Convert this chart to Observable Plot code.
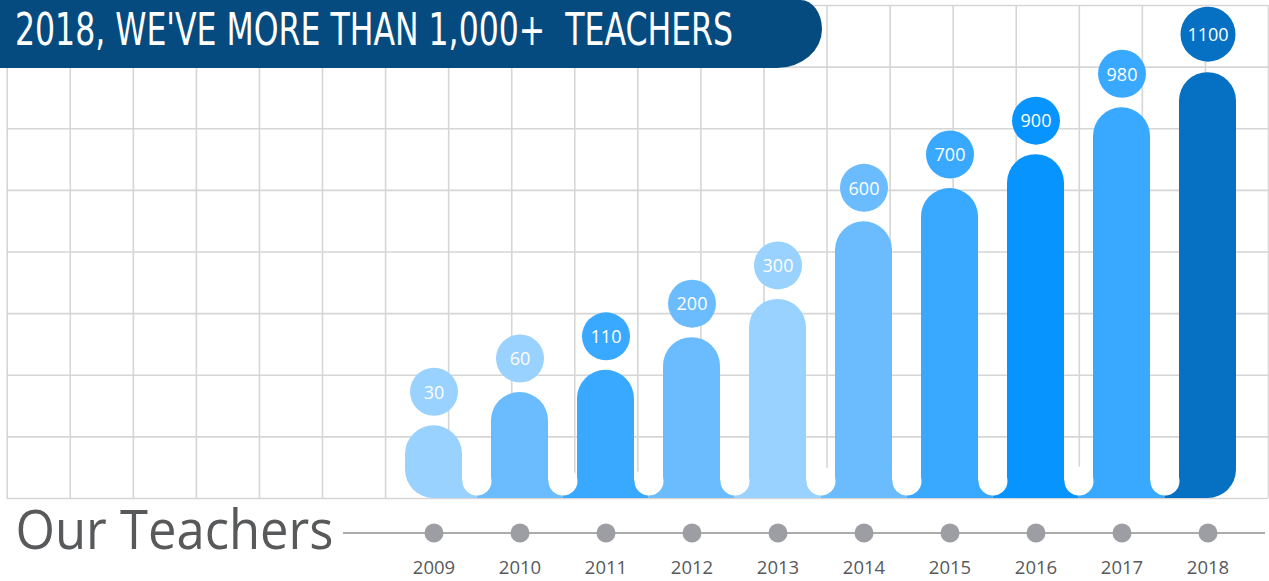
<!DOCTYPE html>
<html>
<head>
<meta charset="utf-8">
<script src="https://cdn.jsdelivr.net/npm/d3@7"></script>
<script src="https://cdn.jsdelivr.net/npm/@observablehq/plot@0.6"></script>
<style>
  html, body { margin: 0; padding: 0; background: #ffffff; }
  #wrap { position: relative; width: 1269px; height: 581px; overflow: hidden; background: #ffffff; }
  #wrap svg { position: absolute; left: 0; top: 0; }
  #banner {
    position: absolute; left: 0; top: 0; width: 822px; height: 68px; z-index: 5;
    background: #064b80;
    border-top-right-radius: 22px 30px;
    border-bottom-right-radius: 46px 40px;
  }
  #banner span {
    position: absolute; left: 15px; top: 7px;
    color: #ffffff; white-space: pre; line-height: 1;
    font-family: "Liberation Sans Narrow", "DejaVu Sans Condensed", "Liberation Sans", sans-serif;
    font-size: 45px; transform-origin: 0 0;
  }
</style>
</head>
<body>
<div id="wrap"><div id="banner"><span id="title"></span></div></div>
<script>
// ---- data ----
const years = [2009, 2010, 2011, 2012, 2013, 2014, 2015, 2016, 2017, 2018];
const teachers = [30, 60, 110, 200, 300, 600, 700, 900, 980, 1100];
// drawn bar heights, in background-grid rows (the picture's bars are stylised, not proportional)
const barHeights = [1.18, 1.72, 2.08, 2.61, 3.23, 4.49, 5.03, 5.58, 6.34, 6.91];
const barColors = ["#99d1ff", "#6abcff", "#39a9ff", "#6abcff", "#99d1ff", "#6abcff", "#39a9ff", "#0894ff", "#39a9ff", "#0670c2"];
const badgeColors = ["#99d1ff", "#99d1ff", "#39a9ff", "#6abcff", "#99d1ff", "#6abcff", "#39a9ff", "#0894ff", "#39a9ff", "#0670c2"];
const gridCols = d3.range(0, 21);
const gridRows = d3.range(0, 9);
const titleText = "2018, WE'VE MORE THAN 1,000+  TEACHERS";
const subtitleText = "Our Teachers";

const data = years.map((year, i) => ({
  year, teachers: teachers[i], h: barHeights[i], color: barColors[i], badge: badgeColors[i]
}));
const first = years[0], last = years[years.length - 1];
const isMid = d => d.year !== first && d.year !== last;
const isFirst = d => d.year === first;
const isLast = d => d.year === last;
const notLast = d => d.year !== last;

const W = 1269, H = 581, MT = 5, MB = 83;
const gridStroke = "#d6d6d6";

// background grid
const grid = Plot.plot({
  width: W, height: H, marginLeft: 6.7, marginRight: 1, marginTop: MT, marginBottom: MB,
  x: {domain: [0, 20], axis: null},
  y: {domain: [0, 8], axis: null},
  style: {background: "transparent"},
  marks: [
    Plot.gridX(gridCols, {stroke: gridStroke, strokeOpacity: 1, strokeWidth: 1.6}),
    Plot.gridY(gridRows, {stroke: gridStroke, strokeOpacity: 1, strokeWidth: 1.6})
  ]
});

const font = "'Open Sans', 'Noto Sans', sans-serif";
const chart = Plot.plot({
  width: W, height: H, marginLeft: 390.5, marginRight: 18.5, marginTop: MT, marginBottom: MB,
  style: {background: "transparent", overflow: "visible", fontFamily: font},
  x: {type: "band", domain: years, paddingInner: 0.337, paddingOuter: 0.1685, axis: null},
  y: {domain: [0, 8], axis: null},
  color: {type: "identity"},
  marks: [
    // rounded bars
    Plot.barY(data, {x: "year", y1: 0, y2: "h", fill: d => d.color, rx: 28.5}),
    // squared-off bottoms
    Plot.barY(data, {filter: isMid, x: "year", y1: 0, y2: 0.5, fill: d => d.color}),
    Plot.barY(data, {filter: isFirst, x: "year", y1: 0, y2: 0.5, fill: d => d.color, insetLeft: 28.5}),
    Plot.barY(data, {filter: isLast, x: "year", y1: 0, y2: 0.5, fill: d => d.color, insetRight: 28.5}),
    // flared feet joining the bars
    Plot.barY(data, {filter: isMid, x: "year", y1: 0, y2: 0.284, fill: d => d.color, insetLeft: -14.5, insetRight: -14.5}),
    Plot.barY(data, {filter: isFirst, x: "year", y1: 0, y2: 0.284, fill: d => d.color, insetLeft: 28.5, insetRight: -14.5}),
    Plot.barY(data, {filter: isLast, x: "year", y1: 0, y2: 0.284, fill: d => d.color, insetLeft: -14.5, insetRight: 28.5}),
    // white rounded notches between bars
    Plot.dot(data, {filter: notLast, x: "year", frameAnchor: "bottom", dx: 43, dy: -17.5, r: 14.5, fill: "#ffffff"}),
    // value badges
    Plot.dot(data, {filter: notLast, x: "year", y: "h", dy: -34, r: 24, fill: d => d.badge}),
    Plot.dot(data, {filter: isLast, x: "year", y: "h", dy: -38.5, r: 27.5, fill: d => d.badge}),
    Plot.text(data, {filter: notLast, x: "year", y: "h", dy: -33, text: d => String(d.teachers), fill: "#ffffff", fontSize: 18, fontFamily: font}),
    Plot.text(data, {filter: isLast, x: "year", y: "h", dy: -37.5, text: d => String(d.teachers), fill: "#ffffff", fontSize: 18, fontFamily: font}),
    // timeline axis
    Plot.ruleY([0], {dy: 34.5, stroke: "#ababab", strokeWidth: 2, insetLeft: -47.5, insetRight: -14.5}),
    Plot.dot(data, {x: "year", frameAnchor: "bottom", dy: 34.5, r: 9.5, fill: "#9d9ea3"}),
    Plot.text(data, {x: "year", frameAnchor: "bottom", dy: 75, text: d => String(d.year), fill: "#58595b", fontSize: 18.5, fontFamily: font}),
    Plot.text([subtitleText], {text: d => d, frameAnchor: "bottom-left", dx: -57.5, dy: 50, textAnchor: "end", fontSize: 54, fill: "#58595b", fontFamily: font})
  ]
});

const wrap = document.getElementById("wrap");
wrap.insertBefore(grid, wrap.firstChild);
wrap.insertBefore(chart, document.getElementById("banner"));

// fit "Our Teachers" to its width in the picture
chart.querySelectorAll("text").forEach(t => {
  if (t.textContent === subtitleText) {
    t.setAttribute("textLength", 318);
    t.setAttribute("lengthAdjust", "spacingAndGlyphs");
  }
});

// title banner text, fitted to its width in the picture
const span = document.getElementById("title");
span.textContent = titleText;
const w = span.getBoundingClientRect().width;
span.style.transform = `scaleX(${718 / w})`;
</script>
</body>
</html>
